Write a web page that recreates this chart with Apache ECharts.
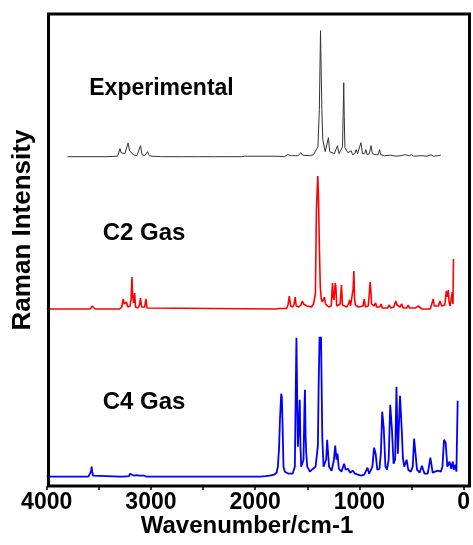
<!DOCTYPE html>
<html>
<head>
<meta charset="utf-8">
<script src="https://cdn.jsdelivr.net/npm/echarts@6/dist/echarts.min.js"></script>
<style>
html,body{margin:0;padding:0;background:#fff;}
#chart{width:473px;height:545px;}
</style>
</head>
<body>
<div id="chart"></div>
<script>
// ---- Data (wavenumber cm-1, relative Raman intensity) ----
const xTickValues = [4000, 3000, 2000, 1000, 0];
const seriesNames = ['Experimental', 'C2 Gas', 'C4 Gas'];

const experimental = [
  [3800,0],[3460,0],[3444,1.5],[3430,0],[3320,0.5],[3297,8],[3286,4],[3275,5],[3250,3],
  [3219,13.7],[3205,6],[3191,7],[3170,2],[3135,1],[3100,11],[3085,2],[3060,1],[3032,5],
  [3015,1],[2990,0.5],[2900,0],[2720,0],[2703,1],[2690,0],[2560,0],[2544,1],[2530,0],
  [2410,0],[2394,1.5],[2380,0],[2270,0],[2253,1],[2240,0],[2130,0],[2113,1],[2100,0.5],
  [1800,0.5],[1720,0],[1689,2],[1670,0.5],[1650,1],[1635,3],[1615,1],[1590,1],[1560,4],
  [1545,1.5],[1480,1],[1440,2],[1422,2],[1398,10],[1384,47],[1373,126],[1360,47],[1351,17],
  [1328,5],[1310,4],[1297,19],[1285,5],[1240,3],[1222,4],[1210,11],[1195,3],[1180,4],
  [1162,10],[1156,40],[1150,74],[1145,40],[1139,9],[1125,9],[1110,4],[1095,3],[1079,6],
  [1065,2],[1045,3],[1032,7],[1018,3],[1000,4],[985,14],[970,3],[950,3],[938,7],[925,2],
  [905,3],[888,11],[875,3],[840,2],[820,2],[807,7],[795,2],[760,1],[700,1.5],[650,0.5],
  [600,1],[566,2],[550,0.5],[520,1],[500,2],[480,0.5],[400,1],[350,0.5],[313,2],[290,0.5],
  [250,1],[219,1.5]
];

const c2Gas = [
  [4000,0],[3580,0],[3565,3],[3557,4],[3548,3],[3535,0],[3300,0],[3280,2],[3266,10],
  [3255,5],[3245,6],[3235,7],[3222,2],[3200,3],[3190,10],[3182,32],[3175,12],[3166,6],
  [3156,16],[3148,2],[3125,1],[3110,4],[3100,11],[3090,2],[3060,2],[3047,10],[3037,1],
  [3020,0],[1800,0],[1775,0.5],[1766,2],[1757,0.5],[1700,0.5],[1685,4],[1672,13],[1660,3],
  [1640,2],[1626,5],[1616,12],[1606,3],[1580,2],[1560,4],[1547,8],[1535,5],[1516,6],
  [1505,3],[1460,2],[1440,5],[1422,15],[1412,100],[1399,133],[1392,110],[1384,62],
  [1375,22],[1366,10],[1355,7],[1344,8],[1335,12],[1325,5],[1310,3],[1295,2],[1270,3],
  [1258,26],[1250,12],[1243,9],[1232,26],[1225,22],[1218,3],[1200,2],[1185,5],[1172,24],
  [1162,4],[1156,2],[1120,2],[1105,5],[1094,9],[1085,3],[1068,4],[1060,20],[1053,38],
  [1046,10],[1038,4],[1010,2],[965,3],[953,10],[943,2],[915,3],[905,15],[897,27],[889,17],
  [883,5],[860,3],[844,6],[835,2],[805,2],[791,5],[780,1],[730,1],[713,4],[700,1],[670,2],
  [660,5],[650,8],[640,4],[625,2],[610,2],[594,5],[580,1],[545,1],[531,4],[520,1],[480,1],
  [470,3],[460,1],[448,3],[438,3],[425,1],[400,0],[320,0],[305,2],[291,10],[282,3],[265,2],
  [240,3],[228,8],[218,7],[210,3],[180,4],[166,18],[157,12],[147,19],[138,6],[128,3],
  [120,4],[109,17],[102,5],[97,50]
];

const c4Gas = [
  [4000,0],[3600,0],[3585,1],[3575,5],[3569,10],[3563,5],[3555,1],[3540,0],[3300,0],
  [3285,1],[3270,0],[3210,0.5],[3200,3],[3194,4],[3185,2],[3160,1],[3140,1.5],[3125,2],
  [3110,1],[3090,1],[3080,2.5],[3072,3],[3062,1],[3040,0],[1950,0],[1900,0.5],[1860,1],
  [1820,2],[1795,4],[1782,10],[1770,30],[1762,57],[1750,83],[1744,80],[1738,57],[1728,10],
  [1715,5],[1703,4],[1680,3],[1641,3],[1630,5],[1619,10],[1612,73],[1604,139],[1598,90],
  [1590,30],[1581,50],[1572,77],[1565,30],[1558,10],[1545,12],[1536,17],[1527,70],[1522,87],
  [1516,40],[1510,24],[1500,10],[1490,8],[1475,5],[1456,5],[1445,8],[1420,10],[1410,12],
  [1398,31],[1391,90],[1382,140],[1375,128],[1368,140],[1356,40],[1344,10],[1330,8],
  [1319,17],[1309,37],[1300,23],[1291,10],[1266,6],[1244,17],[1232,31],[1219,17],[1210,23],
  [1197,8],[1172,5],[1147,13],[1131,7],[1110,8],[1088,4],[1063,6],[1041,3],[985,1],[953,2],
  [922,9],[906,3],[875,10],[859,29],[844,23],[828,7],[807,8],[794,23],[781,65],[766,48],
  [750,10],[735,7],[719,17],[704,72],[688,48],[672,13],[657,17],[644,90],[631,23],[610,81],
  [594,48],[582,18],[569,10],[547,17],[531,7],[507,5],[488,10],[475,38],[463,36],[447,7],
  [422,4],[400,11],[375,3],[344,3],[319,19],[297,4],[250,6],[219,5],[203,10],[188,37],
  [172,34],[156,10],[135,15],[119,8],[104,15],[94,7],[78,12],[69,5],[57,76]
];

// ---- Layout / style constants ----
const BASE = { exp: 329.3, c2: 177, c4: 9.3 };   // vertical offsets of the stacked traces
const FONT = "'Liberation Sans', Arial, sans-serif";

const shift = (arr, off) => arr.map(p => [p[0], p[1] + off]);

const chart = echarts.init(document.getElementById('chart'), null, { renderer: 'canvas' });

const lineSeries = (name, data, color, width) => ({
  name, type: 'line', data, showSymbol: false, symbol: 'none',
  lineStyle: { color, width }, animation: false, z: 3
});

chart.setOption({
  backgroundColor: '#fff',
  animation: false,
  grid: { left: 46.7, width: 426.7, top: 14, height: 472, containLabel: false },
  xAxis: {
    type: 'value', inverse: true, min: 0, max: 4000, interval: 500,
    axisLine: { show: false },
    axisTick: { show: true, inside: false, length: 4, lineStyle: { color: '#000', width: 1.5 } },
    splitLine: { show: false },
    axisLabel: {
      margin: 5, color: '#000', fontFamily: FONT, fontWeight: 'bold', fontSize: 23,
      formatter: v => (xTickValues.indexOf(v) >= 0 ? String(v) : '')
    }
  },
  yAxis: { type: 'value', min: 0, max: 472, show: false },
  graphic: [
    { type: 'rect', shape: { x: 48.5, y: 14, width: 421, height: 472 },
      style: { fill: 'none', stroke: '#000', lineWidth: 3 }, z: 100 },
    { type: 'text', x: 161.5, y: 89,
      style: { text: seriesNames[0], font: 'bold 23px ' + FONT, fill: '#000', textAlign: 'center', textVerticalAlign: 'middle' } },
    { type: 'text', x: 144, y: 233,
      style: { text: seriesNames[1], font: 'bold 24px ' + FONT, fill: '#000', textAlign: 'center', textVerticalAlign: 'middle' } },
    { type: 'text', x: 144, y: 402.5,
      style: { text: seriesNames[2], font: 'bold 24px ' + FONT, fill: '#000', textAlign: 'center', textVerticalAlign: 'middle' } },
    { type: 'text', x: 247, y: 526.5,
      style: { text: 'Wavenumber/cm-1', font: 'bold 24px ' + FONT, fill: '#000', textAlign: 'center', textVerticalAlign: 'middle' } },
    { type: 'text', x: 23, y: 230, rotation: Math.PI / 2,
      style: { text: 'Raman Intensity', font: 'bold 26px ' + FONT, fill: '#000', textAlign: 'center', textVerticalAlign: 'middle' } }
  ],
  series: [
    lineSeries(seriesNames[0], shift(experimental, BASE.exp), '#333333', 1),
    lineSeries(seriesNames[1], shift(c2Gas, BASE.c2), '#ff0000', 1.6),
    lineSeries(seriesNames[2], shift(c4Gas, BASE.c4), '#0000ff', 1.8)
  ]
});
</script>
</body>
</html>
